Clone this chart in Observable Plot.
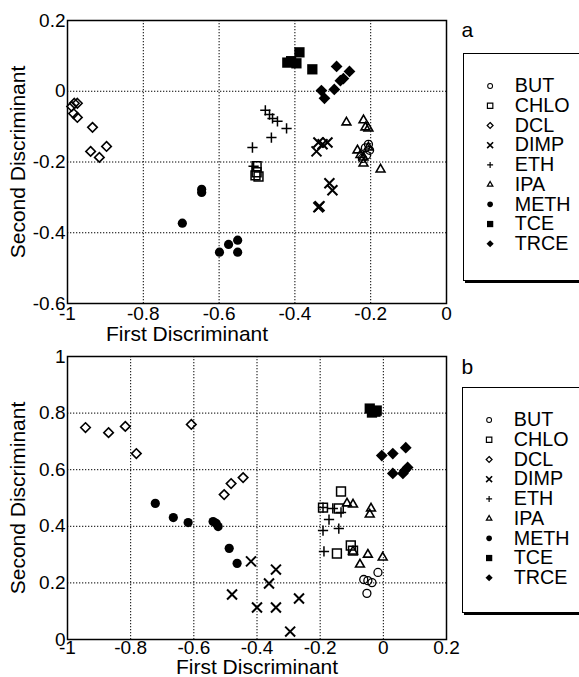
<!DOCTYPE html>
<html>
<head>
<meta charset="utf-8">
<script src="https://cdn.jsdelivr.net/npm/d3@7"></script>
<script src="https://cdn.jsdelivr.net/npm/@observablehq/plot@0.6"></script>
<style>
  html, body { margin: 0; padding: 0; background: #fff; }
  #wrap { position: relative; width: 579px; height: 677px; overflow: hidden; background: #fff; }
  .panel { position: absolute; left: 0; }
  .legend { position: absolute; background: #fff; border: 1.5px solid #000; box-shadow: 2px 2px 0 #000; box-sizing: border-box; }
</style>
</head>
<body>
<div id="wrap"></div>
<script>
const names = ["BUT", "CHLO", "DCL", "DIMP", "ETH", "IPA", "METH", "TCE", "TRCE"];

// Panel a values [first discriminant, second discriminant]
const a_BUT  = [[-0.206,-0.150],[-0.203,-0.167],[-0.211,-0.181],[-0.222,-0.190],[-0.214,-0.160]];
const a_CHLO = [[-0.501,-0.212],[-0.504,-0.238],[-0.496,-0.241],[-0.501,-0.229]];
const a_DCL  = [[-0.982,-0.034],[-0.974,-0.034],[-0.989,-0.043],[-0.984,-0.063],[-0.974,-0.074],[-0.934,-0.102],[-0.939,-0.170],[-0.916,-0.187],[-0.897,-0.156]];
const a_DIMP = [[-0.338,-0.145],[-0.314,-0.145],[-0.327,-0.150],[-0.343,-0.170],[-0.309,-0.260],[-0.301,-0.280],[-0.338,-0.328],[-0.335,-0.325]];
const a_ETH  = [[-0.478,-0.054],[-0.467,-0.066],[-0.459,-0.077],[-0.446,-0.085],[-0.422,-0.105],[-0.462,-0.131],[-0.512,-0.159],[-0.509,-0.212]];
const a_IPA  = [[-0.264,-0.088],[-0.219,-0.082],[-0.214,-0.102],[-0.206,-0.105],[-0.235,-0.167],[-0.206,-0.159],[-0.219,-0.187],[-0.219,-0.204],[-0.174,-0.221],[-0.227,-0.180]];
const a_METH = [[-0.646,-0.277],[-0.646,-0.286],[-0.697,-0.373],[-0.575,-0.433],[-0.551,-0.421],[-0.599,-0.455],[-0.551,-0.455]];
const a_TCE  = [[-0.388,0.110],[-0.420,0.081],[-0.396,0.079],[-0.410,0.085],[-0.354,0.062]];
const a_TRCE = [[-0.290,0.070],[-0.256,0.056],[-0.272,0.036],[-0.280,0.030],[-0.330,0.002],[-0.322,-0.020],[-0.296,0.005]];

// Panel b values
const b_BUT  = [[-0.017,0.237],[-0.062,0.212],[-0.036,0.201],[-0.052,0.163],[-0.049,0.208]];
const b_CHLO = [[-0.134,0.523],[-0.191,0.466],[-0.141,0.463],[-0.147,0.304],[-0.103,0.332],[-0.096,0.314]];
const b_DCL  = [[-0.943,0.749],[-0.870,0.731],[-0.817,0.753],[-0.782,0.657],[-0.608,0.760],[-0.504,0.512],[-0.482,0.551],[-0.444,0.572]];
const b_DIMP = [[-0.419,0.276],[-0.340,0.247],[-0.362,0.198],[-0.479,0.159],[-0.400,0.113],[-0.340,0.113],[-0.267,0.145],[-0.295,0.028]];
const b_ETH  = [[-0.191,0.466],[-0.160,0.463],[-0.134,0.449],[-0.172,0.424],[-0.191,0.385],[-0.141,0.392],[-0.188,0.311]];
const b_IPA  = [[-0.115,0.481],[-0.096,0.477],[-0.039,0.463],[-0.043,0.442],[-0.096,0.311],[-0.049,0.300],[-0.074,0.265],[-0.002,0.290]];
const b_METH = [[-0.722,0.481],[-0.665,0.431],[-0.618,0.413],[-0.539,0.417],[-0.529,0.410],[-0.523,0.399],[-0.488,0.322],[-0.463,0.269]];
const b_TCE  = [[-0.043,0.816],[-0.021,0.809],[-0.036,0.802],[-0.025,0.805]];
const b_TRCE = [[-0.005,0.650],[0.030,0.657],[0.071,0.678],[0.030,0.587],[0.062,0.587],[0.077,0.608],[0.068,0.597]];

const xTicksA = [-1, -0.8, -0.6, -0.4, -0.2, 0];
const yTicksA = [-0.6, -0.4, -0.2, 0, 0.2];
const xTicksB = [-1, -0.8, -0.6, -0.4, -0.2, 0, 0.2];
const yTicksB = [0, 0.2, 0.4, 0.6, 0.8, 1];

const xLabel = "First Discriminant";
const yLabel = "Second Discriminant";

// Marker styles
const STY = {
  BUT:  {symbol: "circle",    filled: false, r: 4,   sw: 1.3},
  CHLO: {symbol: "square",    filled: false, r: 5,   sw: 1.5},
  DCL:  {symbol: "diamond2",  filled: false, r: 4.3, sw: 1.6},
  DIMP: {symbol: "times",     filled: false, r: 4.6, sw: 2},
  ETH:  {symbol: "plus",      filled: false, r: 3.4, sw: 1.5},
  IPA:  {symbol: "triangle2", filled: false, r: 4.2, sw: 1.6},
  METH: {symbol: "circle",    filled: true,  r: 4.6, sw: 0},
  TCE:  {symbol: "square",    filled: true,  r: 5.8, sw: 0},
  TRCE: {symbol: "diamond2",  filled: true,  r: 5.3, sw: 0}
};

const FONT = "'Liberation Sans', Arial, Helvetica, sans-serif";

function dotMark(data, name, scale = 1, extra = {}) {
  const s = STY[name];
  return Plot.dot(data, {
    symbol: s.symbol,
    r: s.r * scale,
    fill: s.filled ? "black" : "none",
    stroke: s.filled ? "none" : "black",
    strokeWidth: s.sw * (scale < 1 ? 0.8 : 1),
    ...extra
  });
}

function panel(series, o) {
  const marks = [
    Plot.gridX(o.xTicks, {stroke: "black", strokeOpacity: 1, strokeWidth: 1, strokeDasharray: "1.3,1.7"}),
    Plot.gridY(o.yTicks, {stroke: "black", strokeOpacity: 1, strokeWidth: 1, strokeDasharray: "1.3,1.7"}),
    Plot.frame({stroke: "black", strokeWidth: 1.5}),
    Plot.axisX(o.xTicks, {tickSize: 0, tickPadding: o.xPad, tickFormat: d => String(d), label: null, fontSize: 19}),
    Plot.axisY(o.yTicks, {tickSize: 0, tickPadding: 2, tickFormat: d => String(d), label: null, fontSize: 19}),
    Plot.text([xLabel], {frameAnchor: "bottom", dx: o.xLabDx, dy: o.xLabDy, text: d => d, fontSize: 21, textAnchor: "middle", lineAnchor: "middle"}),
    Plot.text([yLabel], {frameAnchor: "left", dx: -49, rotate: -90, text: d => d, fontSize: 21, textAnchor: "middle", lineAnchor: "middle"}),
    Plot.text([o.tag], {frameAnchor: "top-right", dx: 15, dy: o.tagDy, text: d => d, fontSize: 21, textAnchor: "start", lineAnchor: "middle"})
  ];
  for (const n of names) {
    marks.push(dotMark(series[n], n, 1, {x: d => d[0], y: d => d[1]}));
  }
  return Plot.plot({
    width: 579,
    height: o.height,
    marginLeft: 67,
    marginRight: 133,
    marginTop: o.mt,
    marginBottom: o.mb,
    x: {domain: o.xDomain, axis: null},
    y: {domain: o.yDomain, axis: null},
    style: {fontFamily: FONT, fontSize: "19px", background: "transparent", color: "black", overflow: "visible"},
    marks
  });
}

function legend() {
  const marks = [];
  for (const n of names) {
    marks.push(dotMark([n], n, 0.62, {y: d => d, frameAnchor: "left", dx: 26}));
  }
  marks.push(Plot.text(names, {y: d => d, frameAnchor: "left", dx: 51, text: d => d, textAnchor: "start", fontSize: 20, lineAnchor: "middle"}));
  return Plot.plot({
    width: 140,
    height: 224,
    marginTop: 18,
    marginBottom: 18,
    marginLeft: 0,
    marginRight: 0,
    x: {domain: [0, 1], axis: null},
    y: {domain: names, type: "point", axis: null},
    style: {fontFamily: FONT, fontSize: "20px", background: "transparent", color: "black", overflow: "visible"},
    marks
  });
}

const wrap = document.getElementById("wrap");

const seriesA = {BUT: a_BUT, CHLO: a_CHLO, DCL: a_DCL, DIMP: a_DIMP, ETH: a_ETH, IPA: a_IPA, METH: a_METH, TCE: a_TCE, TRCE: a_TRCE};
const seriesB = {BUT: b_BUT, CHLO: b_CHLO, DCL: b_DCL, DIMP: b_DIMP, ETH: b_ETH, IPA: b_IPA, METH: b_METH, TCE: b_TCE, TRCE: b_TRCE};

const pa = panel(seriesA, {height: 345, mt: 20, mb: 42, xDomain: [-1, 0], yDomain: [-0.6, 0.2], xTicks: xTicksA, yTicks: yTicksA, xPad: 3, xLabDx: -70, xLabDy: 31, tag: "a", tagDy: 10});
pa.classList.add("panel"); pa.style.top = "0px";
wrap.appendChild(pa);

const pb = panel(seriesB, {height: 342, mt: 21, mb: 38, xDomain: [-1, 0.2], yDomain: [0, 1], xTicks: xTicksB, yTicks: yTicksB, xPad: 1, xLabDx: 0, xLabDy: 28, tag: "b", tagDy: 11});
pb.classList.add("panel"); pb.style.top = "335px";
wrap.appendChild(pb);

const la = document.createElement("div");
la.className = "legend"; la.style.left = "463px"; la.style.top = "53px"; la.style.width = "140px"; la.style.height = "228px";
la.appendChild(legend());
wrap.appendChild(la);

const lb = document.createElement("div");
lb.className = "legend"; lb.style.left = "462px"; lb.style.top = "387px"; lb.style.width = "140px"; lb.style.height = "226px";
lb.appendChild(legend());
wrap.appendChild(lb);
</script>
</body>
</html>
